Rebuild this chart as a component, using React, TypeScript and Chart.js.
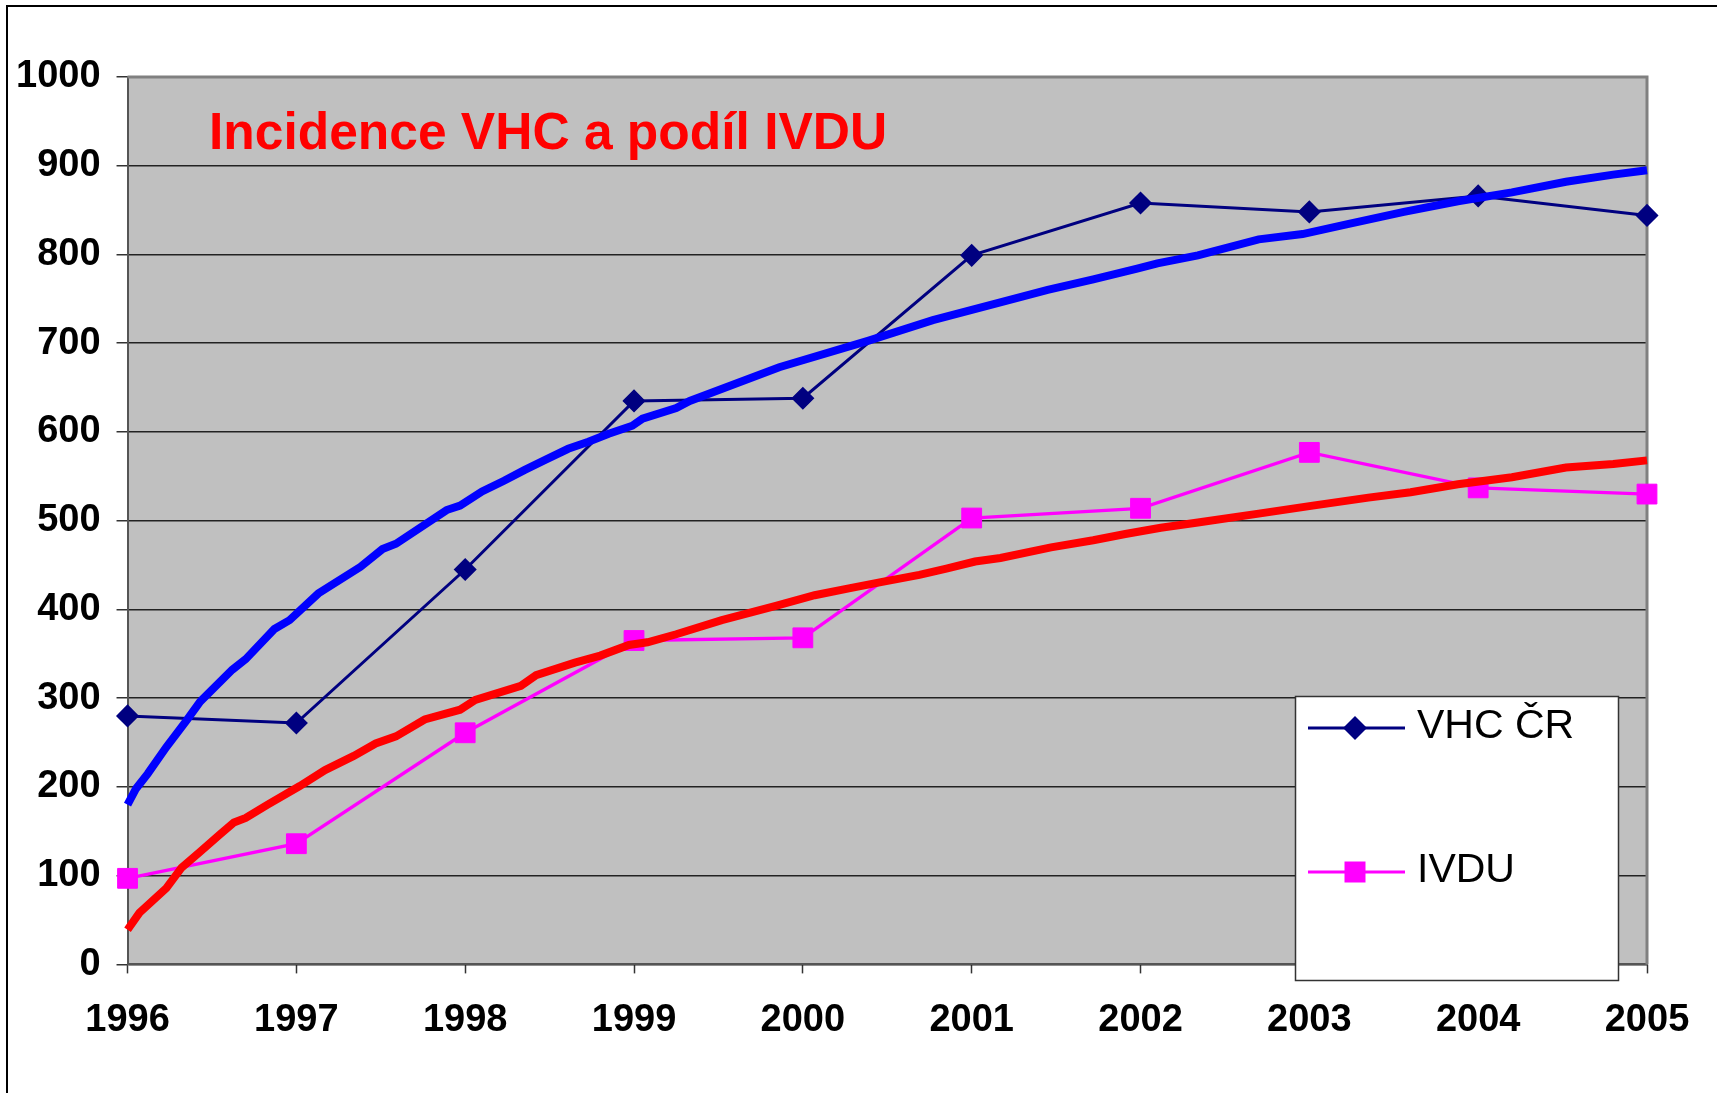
import React, { useEffect, useRef } from 'react';
import { Chart, registerables } from 'chart.js';

Chart.register(...registerables);

// ---- data ----
const yearTicks = [1996, 1997, 1998, 1999, 2000, 2001, 2002, 2003, 2004, 2005];
const yearLabels = ['1996', '1997', '1998', '1999', '2000', '2001', '2002', '2003', '2004', '2005'];
const yTickLabels = ['0', '100', '200', '300', '400', '500', '600', '700', '800', '900', '1000'];

const vhcCR = [280, 272, 445, 635, 638, 799, 858, 848, 866, 844];
const ivdu = [97, 136, 261, 365, 368, 503, 514, 577, 537, 530];

// trend curves
const vhcTrendYears = [
  1996.0, 1996.05, 1996.12, 1996.23, 1996.35, 1996.43, 1996.62, 1996.7, 1996.87, 1996.96,
  1997.13, 1997.38, 1997.51, 1997.59, 1997.89, 1997.97, 1998.1, 1998.23, 1998.35, 1998.48,
  1998.61, 1998.73, 1998.85, 1998.99, 1999.05, 1999.25, 1999.33, 1999.86, 2000.39, 2000.77,
  2001.13, 2001.45, 2001.72, 2001.98, 2002.1, 2002.34, 2002.7, 2002.96, 2003.22, 2003.56,
  2003.88, 2004.2, 2004.52, 2004.8, 2005.0,
];
const vhcTrendValues = [
  180, 198, 215, 245, 275, 296, 332, 344, 378, 388,
  418, 448, 468, 474, 512, 517, 533, 545, 557, 569,
  581, 589, 598, 607, 615, 627, 635, 673, 703, 726,
  744, 760, 772, 784, 790, 799, 817, 823, 834, 848,
  860, 870, 882, 890, 895,
];

const ivduTrendYears = [
  1996.0, 1996.07, 1996.23, 1996.32, 1996.43, 1996.55, 1996.63, 1996.7, 1996.83, 1997.02,
  1997.17, 1997.34, 1997.47, 1997.59, 1997.76, 1997.97, 1998.06, 1998.33, 1998.42, 1998.65,
  1998.8, 1998.97, 1999.08, 1999.25, 1999.52, 1999.84, 2000.07, 2000.28, 2000.47, 2000.69,
  2000.85, 2001.02, 2001.17, 2001.47, 2001.72, 2001.91, 2002.12, 2002.34, 2002.7, 2003.02,
  2003.35, 2003.6, 2003.88, 2004.2, 2004.52, 2004.8, 2005.0,
];
const ivduTrendValues = [
  39, 58, 86, 109, 127, 147, 160, 165, 180, 201,
  219, 235, 249, 257, 276, 287, 298, 314, 326, 340,
  348, 360, 363, 372, 388, 404, 416, 424, 431, 439,
  446, 454, 458, 470, 478, 485, 492, 498, 508, 517,
  526, 532, 541, 549, 560, 564, 568,
];

const TITLE = 'Incidence VHC a podíl IVDU';
const SERIES_NAMES = ['VHC ČR', 'IVDU'];

const FONT = "'Liberation Sans', Arial, sans-serif";

const plotPlugin = {
  id: 'plotDecor',
  beforeDraw(chart: any) {
    const { ctx, chartArea: a } = chart;
    ctx.save();
    ctx.fillStyle = '#C0C0C0';
    ctx.fillRect(a.left, a.top, a.right - a.left, a.bottom - a.top);
    ctx.restore();
  },
  beforeDatasetsDraw(chart: any) {
    const { ctx, chartArea: a } = chart;
    ctx.save();
    ctx.strokeStyle = '#808080';
    ctx.lineWidth = 3;
    ctx.beginPath();
    ctx.moveTo(a.left, a.top);
    ctx.lineTo(a.right, a.top);
    ctx.lineTo(a.right, a.bottom);
    ctx.stroke();
    ctx.restore();
  },
  afterDraw(chart: any) {
    const { ctx } = chart;
    ctx.save();
    // title inside plot area
    ctx.fillStyle = '#FF0000';
    ctx.font = `bold 51.5px ${FONT}`;
    ctx.textBaseline = 'alphabetic';
    ctx.textAlign = 'left';
    ctx.fillText(TITLE, 209, 149);

    // legend box
    ctx.fillStyle = '#FFFFFF';
    ctx.fillRect(1295.5, 696.5, 323, 284);
    ctx.strokeStyle = '#333333';
    ctx.lineWidth = 1.5;
    ctx.strokeRect(1295.5, 696.5, 323, 284);

    const rows = [728, 872];
    const entries = chart.data.datasets.filter((d: any) => d.inLegend);
    entries.forEach((d: any, i: number) => {
      const y = rows[i];
      ctx.strokeStyle = d.borderColor;
      ctx.lineWidth = 3;
      ctx.beginPath();
      ctx.moveTo(1308, y);
      ctx.lineTo(1405, y);
      ctx.stroke();
      ctx.fillStyle = d.backgroundColor;
      const cx = 1355;
      ctx.beginPath();
      if (d.pointStyle === 'rectRot') {
        const r = 12;
        ctx.moveTo(cx - r, y);
        ctx.lineTo(cx, y - r);
        ctx.lineTo(cx + r, y);
        ctx.lineTo(cx, y + r);
        ctx.closePath();
      } else {
        const s = 10.5;
        ctx.rect(cx - s, y - s, 2 * s, 2 * s);
      }
      ctx.fill();
      ctx.fillStyle = '#000000';
      ctx.font = `41px ${FONT}`;
      ctx.textBaseline = 'alphabetic';
      ctx.fillText(d.label, 1417, y + 10);
    });
    ctx.restore();
  },
};

export default function App() {
  const ref = useRef<HTMLCanvasElement | null>(null);

  useEffect(() => {
    if (!ref.current) return;
    const chart = new Chart(ref.current, {
      type: 'line',
      data: {
        datasets: [
          {
            label: 'trend VHC',
            data: vhcTrendYears.map((x, i) => ({ x, y: vhcTrendValues[i] })),
            borderColor: '#0000FF',
            backgroundColor: '#0000FF',
            borderWidth: 8,
            pointRadius: 0,
            tension: 0,
            clip: false,
            order: 0,
          },
          {
            label: 'trend IVDU',
            data: ivduTrendYears.map((x, i) => ({ x, y: ivduTrendValues[i] })),
            borderColor: '#FF0000',
            backgroundColor: '#FF0000',
            borderWidth: 8,
            pointRadius: 0,
            tension: 0,
            clip: false,
            order: 0,
          },
          {
            label: SERIES_NAMES[0],
            inLegend: true,
            data: yearTicks.map((x, i) => ({ x, y: vhcCR[i] })),
            borderColor: '#000080',
            backgroundColor: '#000080',
            borderWidth: 3,
            pointStyle: 'rectRot',
            pointRadius: 10.5,
            pointBorderWidth: 1.5,
            pointBorderColor: '#000080',
            pointBackgroundColor: '#000080',
            tension: 0,
            clip: false,
            order: 1,
          } as any,
          {
            label: SERIES_NAMES[1],
            inLegend: true,
            data: yearTicks.map((x, i) => ({ x, y: ivdu[i] })),
            borderColor: '#FF00FF',
            backgroundColor: '#FF00FF',
            borderWidth: 3.3,
            pointStyle: 'rect',
            pointRadius: 14,
            pointBorderWidth: 1,
            pointBorderColor: '#FF00FF',
            pointBackgroundColor: '#FF00FF',
            tension: 0,
            clip: false,
            order: 1,
          } as any,
        ],
      },
      options: {
        responsive: false,
        animation: false,
        devicePixelRatio: 1,
        layout: { padding: { left: 0, right: 70, top: 77, bottom: 26 } },
        plugins: {
          legend: { display: false },
          tooltip: { enabled: false },
          title: { display: false },
        },
        scales: {
          x: {
            type: 'linear',
            min: 1996,
            max: 2005,
            afterBuildTicks: (scale: any) => {
              scale.ticks = yearTicks.map((v) => ({ value: v }));
            },
            ticks: {
              autoSkip: false,
              maxRotation: 0,
              padding: 24,
              color: '#000000',
              font: { family: FONT, size: 38, weight: 'bold' },
              callback: (v: any) => yearLabels[yearTicks.indexOf(Number(v))] ?? '',
            },
            grid: {
              drawOnChartArea: false,
              drawTicks: true,
              tickLength: 9,
              tickColor: '#333333',
              tickWidth: 1.5,
            },
            border: { display: true, color: '#555555', width: 2 },
          },
          y: {
            type: 'linear',
            min: 0,
            max: 1000,
            ticks: {
              stepSize: 100,
              padding: 16,
              color: '#000000',
              font: { family: FONT, size: 38, weight: 'bold' },
              callback: (v: any) => yTickLabels[Math.round(Number(v) / 100)] ?? '',
            },
            grid: {
              color: '#222222',
              lineWidth: 1.5,
              drawTicks: true,
              tickLength: 11,
              tickColor: '#333333',
            },
            border: { display: true, color: '#555555', width: 2 },
          },
        },
      },
      plugins: [plotPlugin],
    } as any);
    return () => chart.destroy();
  }, []);

  return (
    <div style={{ position: 'fixed', left: 0, top: 0, width: 1717, height: 1093, background: '#FFFFFF' }}>
      <canvas ref={ref} width={1717} height={1093} style={{ position: 'absolute', left: 0, top: 0 }} />
      <div
        style={{
          position: 'absolute',
          left: 6,
          top: 5,
          width: 1711,
          height: 1088,
          borderLeft: '2px solid #000',
          borderTop: '2px solid #000',
          boxSizing: 'border-box',
          pointerEvents: 'none',
        }}
      />
    </div>
  );
}
